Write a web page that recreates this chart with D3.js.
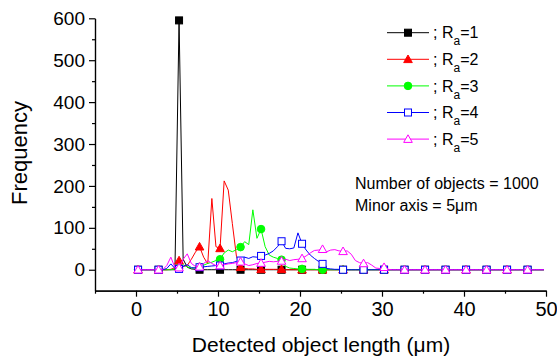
<!DOCTYPE html>
<html>
<head>
<meta charset="utf-8">
<script src="https://cdn.jsdelivr.net/npm/d3@7"></script>
<style>
  body { margin: 0; background: #fff; }
  svg { display: block; font-family: "Liberation Sans", Arial, sans-serif; }
</style>
</head>
<body>
<svg id="chart" width="557" height="358"></svg>
<script>
// bin centres of the length histogram (0.5 um bins)
var lengths = d3.range(0.25, 50, 0.5);

// frequencies per bin, one row = 10 bins = 5 um
var ra1 = [
  0, 0, 0, 0, 0, 0, 0, 0, 0, 0,
  595, 25, 6, 2, 1, 0, 0, 0, 0, 0,
  0, 0, 0, 0, 0, 0, 0, 0, 0, 0,
  0, 0, 0, 0, 0, 0, 0, 0, 0, 0,
  0, 0, 0, 0, 0, 0, 0, 0, 0, 0,
  0, 0, 0, 0, 0, 0, 0, 0, 0, 0,
  0, 0, 0, 0, 0, 0, 0, 0, 0, 0,
  0, 0, 0, 0, 0, 0, 0, 0, 0, 0,
  0, 0, 0, 0, 0, 0, 0, 0, 0, 0,
  0, 0, 0, 0, 0, 0, 0, 0, 0, 0
];
var ra2 = [
  0, 0, 0, 0, 0, 0, 0, 0, 1, 5,
  22, 8, 10, 25, 42, 55, 30, 14, 170, 55,
  51, 212, 190, 110, 32, 6, 3, 2, 2, 1,
  1, 1, 1, 1, 1, 1, 0, 0, 0, 0,
  0, 0, 0, 0, 0, 0, 0, 0, 0, 0,
  0, 0, 0, 0, 0, 0, 0, 0, 0, 0,
  0, 0, 0, 0, 0, 0, 0, 0, 0, 0,
  0, 0, 0, 0, 0, 0, 0, 0, 0, 0,
  0, 0, 0, 0, 0, 0, 0, 0, 0, 0,
  0, 0, 0, 0, 0, 0, 0, 0, 0, 0
];
var ra3 = [
  0, 0, 0, 0, 0, 0, 0, 0, 0, 2,
  4, 12, 7, 4, 5, 7, 11, 15, 18, 22,
  25, 40, 47, 43, 48, 54, 67, 60, 143, 75,
  97, 55, 35, 30, 27, 24, 8, 4, 3, 2,
  2, 1, 1, 1, 0, 0, 0, 0, 0, 0,
  0, 0, 0, 0, 0, 0, 0, 0, 0, 0,
  0, 0, 0, 0, 0, 0, 0, 0, 0, 0,
  0, 0, 0, 0, 0, 0, 0, 0, 0, 0,
  0, 0, 0, 0, 0, 0, 0, 0, 0, 0,
  0, 0, 0, 0, 0, 0, 0, 0, 0, 0
];
var ra4 = [
  0, 0, 0, 0, 0, 0, 0, 3, 14, 3,
  2, 8, 12, 5, 4, 6, 7, 8, 9, 10,
  10, 14, 16, 17, 20, 22, 30, 27, 31, 30,
  33, 35, 39, 45, 55, 68, 51, 50, 52, 88,
  62, 47, 35, 27, 20, 14, 3, 2, 1, 1,
  0, 0, 0, 0, 0, 0, 0, 0, 0, 0,
  0, 0, 0, 0, 0, 0, 0, 0, 0, 0,
  0, 0, 0, 0, 0, 0, 0, 0, 0, 0,
  0, 0, 0, 0, 0, 0, 0, 0, 0, 0,
  0, 0, 0, 0, 0, 0, 0, 0, 0, 0
];
var ra5 = [
  0, 0, 0, 0, 0, 0, 0, 10, 30, 5,
  5, 25, 38, 15, 8, 7, 15, 22, 15, 10,
  10, 12, 14, 15, 17, 19, 14, 10, 12, 15,
  16, 18, 20, 19, 20, 21, 25, 22, 24, 25,
  27, 33, 40, 46, 47, 49, 43, 47, 48, 45,
  44, 45, 37, 22, 17, 15, 17, 11, 4, 3,
  6, 1, 0, 0, 0, 0, 0, 0, 0, 0,
  0, 0, 0, 0, 0, 0, 0, 0, 0, 0,
  0, 0, 0, 0, 0, 0, 0, 0, 0, 0,
  0, 0, 0, 0, 0, 0, 0, 0, 0, 0
];

var raLabels = ["1", "2", "3", "4", "5"];
var xMajorTicks = [0, 10, 20, 30, 40, 50];
var xMinorTicks = [-5, 5, 15, 25, 35, 45];
var yMajorTicks = [0, 100, 200, 300, 400, 500, 600];
var yMinorTicks = [50, 150, 250, 350, 450, 550];
var noteLines = ["Number of objects = 1000", "Minor axis = 5\u03bcm"];

var series = [
  {values: ra1, color: "#000000", symbol: "square", filled: true},
  {values: ra2, color: "#ff0000", symbol: "triangle", filled: true},
  {values: ra3, color: "#00ff00", symbol: "circle", filled: true},
  {values: ra4, color: "#0000ff", symbol: "square", filled: false},
  {values: ra5, color: "#ff00ff", symbol: "triangle", filled: false}
];

var svg = d3.select("#chart");

var x = d3.scaleLinear().domain([-5, 50]).range([95, 546]);
var y = d3.scaleLinear().domain([-50, 600]).range([290.7, 18.3]);

/**
 * Draw one plot symbol centred on (cx, cy)
 */
var drawSymbol = function(g, s, cx, cy) {
    var fill = s.filled ? s.color : "#fff";
    if (s.symbol == "square") {
        g.append("rect")
            .attr("x", cx - 3.5).attr("y", cy - 3.5)
            .attr("width", 7).attr("height", 7)
            .attr("fill", fill).attr("stroke", s.color).attr("stroke-width", 1);
    } else if (s.symbol == "triangle") {
        var p = [[cx, cy - 4.3], [cx + 4.3, cy + 3.3], [cx - 4.3, cy + 3.3]];
        g.append("path")
            .attr("d", "M" + p.join("L") + "Z")
            .attr("fill", fill).attr("stroke", s.color).attr("stroke-width", 1);
    } else {
        g.append("circle")
            .attr("cx", cx).attr("cy", cy).attr("r", 3.8)
            .attr("fill", fill).attr("stroke", s.color).attr("stroke-width", 1);
    }
};

// axes
var axisStyle = function(g) {
    g.selectAll("path, line").attr("stroke", "#000").attr("stroke-width", 1.2);
    g.selectAll("text").attr("fill", "#000").attr("font-family", null);
};

svg.append("g")
    .attr("transform", "translate(0," + y(-50) + ")")
    .call(d3.axisBottom(x).tickValues(xMinorTicks).tickSize(3).tickSizeOuter(0).tickFormat(""))
    .call(axisStyle);
svg.append("g")
    .attr("transform", "translate(0," + y(-50) + ")")
    .call(d3.axisBottom(x).tickValues(xMajorTicks).tickSize(6).tickSizeOuter(0).tickPadding(5))
    .call(axisStyle)
    .selectAll("text").attr("font-size", 20);

svg.append("g")
    .attr("transform", "translate(" + x(-5) + ",0)")
    .call(d3.axisLeft(y).tickValues(yMinorTicks).tickSize(3).tickSizeOuter(0).tickFormat(""))
    .call(axisStyle);
svg.append("g")
    .attr("transform", "translate(" + x(-5) + ",0)")
    .call(d3.axisLeft(y).tickValues(yMajorTicks).tickSize(6).tickSizeOuter(0).tickPadding(4))
    .call(axisStyle)
    .selectAll("text").attr("font-size", 19);

// axis titles
svg.append("text")
    .attr("x", 321).attr("y", 352)
    .attr("text-anchor", "middle").attr("font-size", 21)
    .text("Detected object length (\u03bcm)");
svg.append("text")
    .attr("transform", "translate(27,153) rotate(-90)")
    .attr("text-anchor", "middle").attr("font-size", 22)
    .text("Frequency");

// data: line first, then the symbols of every fifth bin
var line = d3.line()
    .x(function(d, i) { return x(lengths[i]); })
    .y(function(d) { return y(d); });

series.forEach(function(s) {
    var g = svg.append("g");
    g.append("path")
        .attr("d", line(s.values))
        .attr("fill", "none")
        .attr("stroke", s.color)
        .attr("stroke-width", 1);
    for (var i = 0; i < s.values.length; i += 5) {
        drawSymbol(g, s, x(lengths[i]), y(s.values[i]));
    }
});

// legend
var legendTop = 32.7, legendStep = 26.6;
series.forEach(function(s, k) {
    var ly = legendTop + k * legendStep;
    var g = svg.append("g");
    g.append("line")
        .attr("x1", 387).attr("x2", 429).attr("y1", ly).attr("y2", ly)
        .attr("stroke", s.color).attr("stroke-width", 1);
    drawSymbol(g, s, 408, ly);
    var t = g.append("text")
        .attr("x", 433).attr("y", ly + 5.6)
        .attr("font-size", 16);
    t.append("tspan").text("; R");
    t.append("tspan").attr("dy", 7).attr("font-size", 12).text("a");
    t.append("tspan").attr("dy", -7).text("=" + raLabels[k]);
});

// notes
noteLines.forEach(function(txt, k) {
    svg.append("text")
        .attr("x", 355).attr("y", 189.3 + k * 21.4)
        .attr("font-size", 16)
        .text(txt);
});
</script>
</body>
</html>
